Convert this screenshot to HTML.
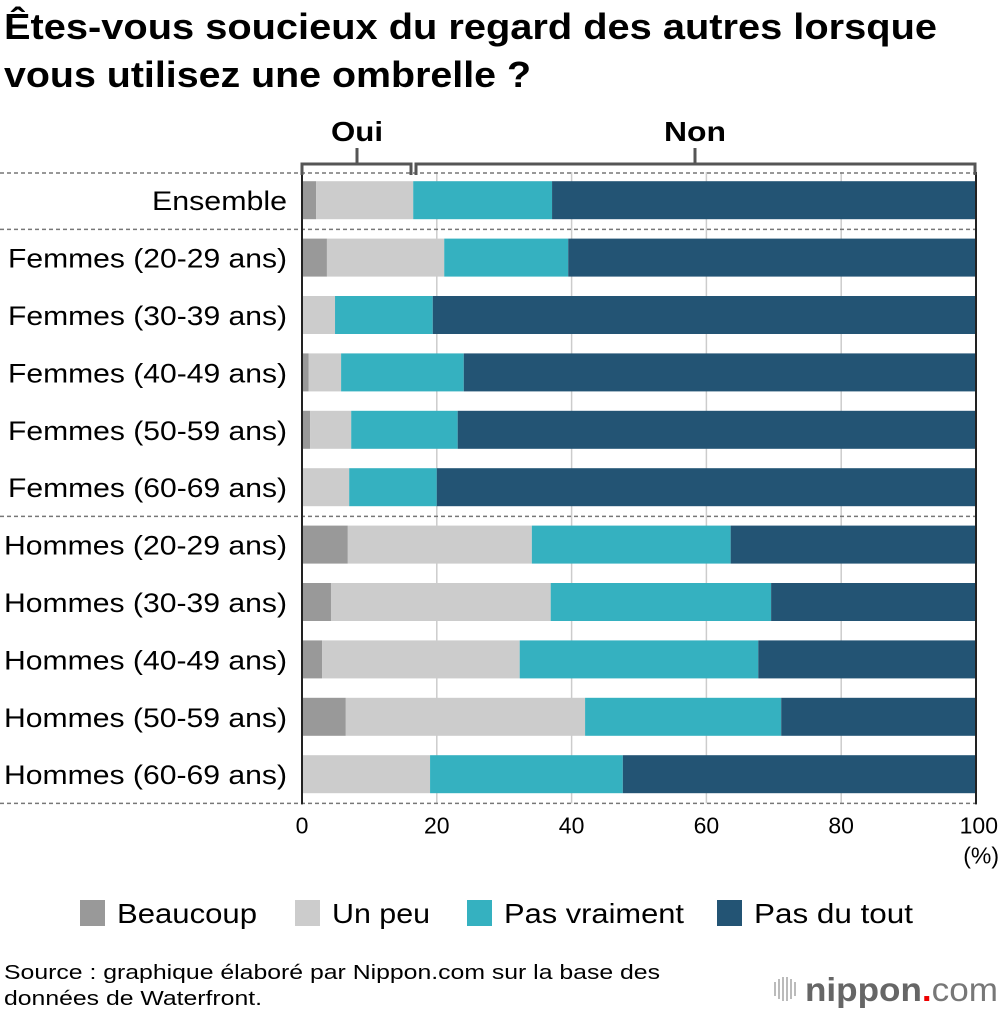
<!DOCTYPE html>
<html><head><meta charset="utf-8"><style>
html,body{margin:0;padding:0;background:#fff;}
svg{display:block;font-family:"Liberation Sans",Arial,sans-serif;}
</style></head><body>
<svg id="chart" width="1000" height="1012" viewBox="0 0 1000 1012" xmlns="http://www.w3.org/2000/svg">
<text x="4" y="39" font-size="36" font-weight="bold" textLength="933" lengthAdjust="spacingAndGlyphs">Êtes-vous soucieux du regard des autres lorsque</text>
<text x="4" y="87" font-size="36" font-weight="bold" textLength="527" lengthAdjust="spacingAndGlyphs">vous utilisez une ombrelle ?</text>
<g id="grid"></g>
<g id="bars"></g>
<g id="labels"></g>
<g id="axis"></g>
<g stroke="#555" stroke-width="3" fill="none">
<path d="M302,175 V164 H411 V175"/>
<path d="M416,175 V164 H975 V175"/>
<path d="M357,164 V148"/>
<path d="M695,164 V148"/>
</g>
<text x="357" y="141" font-size="28" font-weight="bold" text-anchor="middle" textLength="52" lengthAdjust="spacingAndGlyphs">Oui</text>
<text x="695" y="141" font-size="28" font-weight="bold" text-anchor="middle" textLength="62" lengthAdjust="spacingAndGlyphs">Non</text>
<g id="legend"></g>
<text x="4" y="979" font-size="20" textLength="656" lengthAdjust="spacingAndGlyphs">Source : graphique élaboré par Nippon.com sur la base des</text>
<text x="4" y="1005" font-size="20" textLength="258" lengthAdjust="spacingAndGlyphs">données de Waterfront.</text>
<g>
<g fill="#bbb"><rect x="774" y="982" width="2" height="14"/><rect x="778" y="979" width="2" height="20"/><rect x="782" y="977" width="2" height="24"/><rect x="786" y="977" width="2" height="24"/><rect x="790" y="979" width="2" height="20"/><rect x="794" y="982" width="2" height="14"/></g>
<text x="805" y="1001" font-size="33" font-weight="bold" fill="#666" textLength="193" lengthAdjust="spacingAndGlyphs">nippon<tspan fill="#e00">.</tspan><tspan font-weight="normal" fill="#777">com</tspan></text>
</g>
</svg>
<script>
const categories = ["Ensemble","Femmes (20-29 ans)","Femmes (30-39 ans)","Femmes (40-49 ans)","Femmes (50-59 ans)","Femmes (60-69 ans)","Hommes (20-29 ans)","Hommes (30-39 ans)","Hommes (40-49 ans)","Hommes (50-59 ans)","Hommes (60-69 ans)"];
const beaucoup = [2.1,3.7,0,1.0,1.2,0,6.8,4.3,3.0,6.5,0];
const unPeu = [14.4,17.4,4.9,4.8,6.1,7.0,27.3,32.6,29.3,35.5,19.0];
const pasVraiment = [20.6,18.4,14.5,18.2,15.8,13.0,29.5,32.7,35.4,29.1,28.6];
const pasDuTout = [62.9,60.5,80.6,76.0,76.9,80.0,36.4,30.4,32.3,28.9,52.4];
const seriesNames = ["Beaucoup","Un peu","Pas vraiment","Pas du tout"];
const ticks = [0,20,40,60,80,100];

const NS="http://www.w3.org/2000/svg";
const colors=["#999999","#cccccc","#35b1c0","#235474"];
const X0=302,X1=976,Y0=172,ROW=57.4,BH=38;
const xs=v=>X0+(X1-X0)*v/100;
const yc=i=>Y0+ROW*(i+0.5)-0.5;
function mk(tag,attrs,parent){const e=document.createElementNS(NS,tag);for(const k in attrs)e.setAttribute(k,attrs[k]);parent.appendChild(e);return e;}
const grid=document.getElementById('grid'),bars=document.getElementById('bars'),labels=document.getElementById('labels'),axis=document.getElementById('axis'),legend=document.getElementById('legend');
const Yb=Y0+ROW*categories.length;
ticks.forEach(t=>{if(t===0||t===100)return;const l=mk('line',{x1:xs(t),x2:xs(t),y1:Y0,y2:Yb,stroke:'#ccc','stroke-width':1.5},grid);

});
const series=[beaucoup,unPeu,pasVraiment,pasDuTout];
categories.forEach((c,i)=>{let acc=0;
series.forEach((s,j)=>{const v=s[i];if(v>0){const r=mk('rect',{x:xs(acc),y:yc(i)-BH/2,width:xs(acc+v)-xs(acc),height:BH,fill:colors[j]},bars);

}acc+=v;});
const tl=c==='Ensemble'?135:(c.startsWith('Femmes')?279:283);
const t=mk('text',{x:287,y:yc(i)+10,'font-size':27,'text-anchor':'end',textLength:tl,lengthAdjust:'spacingAndGlyphs'},labels);t.textContent=c;

});
[0,1,6,11].forEach(k=>{const y=Y0+ROW*k+(k===0?1:0);const l=mk('line',{x1:0,x2:X1,y1:y,y2:y,stroke:'#777','stroke-width':1.5,'stroke-dasharray':'4,3'},grid);

});
mk('line',{x1:X0,x2:X0,y1:Y0,y2:Yb+1,stroke:'#222','stroke-width':2},axis);
mk('line',{x1:X1,x2:X1,y1:Y0,y2:Yb+1,stroke:'#222','stroke-width':2},axis);
ticks.forEach(t=>{const e=mk('text',{x:t===100?998:xs(t),y:Yb+30,'font-size':23,'text-anchor':t===100?'end':'middle'},axis);e.textContent=t;

});
const pct=mk('text',{x:999,y:Yb+60,'font-size':23,'text-anchor':'end'},axis);pct.textContent='(%)';


const lx=[80,295,467,717];
const lw=[140,98,180,159];
seriesNames.forEach((n,j)=>{const g=mk('g',{},legend);


mk('rect',{x:lx[j],y:900,width:25,height:26,fill:colors[j]},g);
const t=mk('text',{x:lx[j]+37,y:923,'font-size':28,textLength:lw[j],lengthAdjust:'spacingAndGlyphs'},g);t.textContent=n;});
</script>
</body></html>
